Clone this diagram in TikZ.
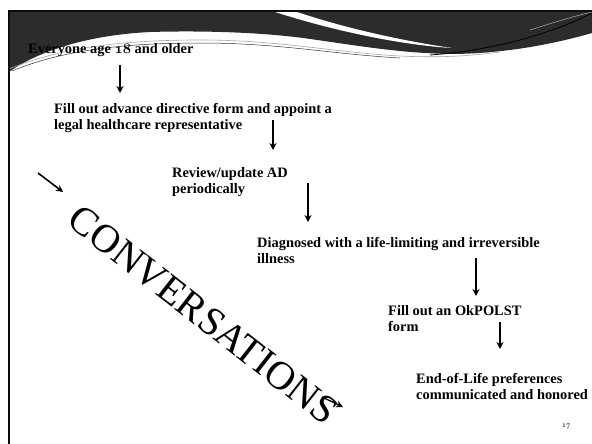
\documentclass[tikz,border=0pt]{standalone}
\usepackage{fontspec}
\setmainfont{Liberation Serif}
\definecolor{bandGray}{RGB}{44,44,44}
\definecolor{frameBlack}{RGB}{12,12,12}
\usetikzlibrary{arrows.meta,positioning}
\newcommand{\osnum}[2]{{\usefont{OML}{cmm}{#1}{it}#2}}

\tikzset{
  steptext/.style={font=\bfseries\fontsize{14.4}{15.5}\selectfont, align=left, inner sep=0pt, anchor=base west},
  flowarrow/.style={-{Stealth[length=7pt,width=7pt]}, line width=1.6pt},
}

\begin{document}
\begin{tikzpicture}[x=1pt, y=-1pt]
    \useasboundingbox (0,0) rectangle (592,444);

    % header band
    \fill[bandGray] (9,11) -- (592,11) -- (592,33) .. controls (540,48) and (490,54) .. (450,54) .. controls (400,53) and (360,46) .. (317,40) .. controls (280,34) and (220,30) .. (150,32) .. controls (90,35) and (40,50) .. (9,72) -- cycle;
    \fill[white] (272,11) -- (294,11) .. controls (350,30) and (410,42) .. (452,48) .. controls (400,45) and (330,30) .. (272,11) -- cycle;
    \draw[gray!70, line width=0.6pt] (9,69) .. controls (60,48) and (120,40) .. (200,40) .. controls (280,40) and (330,52) .. (400,56) .. controls (440,58) and (470,56) .. (500,52);
    \draw[black!80, line width=0.5pt] (12,71) .. controls (60,51) and (120,43) .. (200,43) .. controls (280,43) and (330,54) .. (400,58);
    \draw[black, line width=0.8pt] (430,55) .. controls (500,50) and (560,30) .. (592,13);
    \draw[gray!60, line width=0.5pt] (530,30) .. controls (555,22) and (575,16) .. (592,12);
    \draw[frameBlack, line width=2.5pt] (9,444) -- (9,11) -- (592,11);

    % steps (base = last line)
    \node[steptext] (everyone) at (28,54) {Everyone age \osnum{b}{18} and older};
    \node[steptext] (advdir) at (54,129) {Fill out advance directive form and appoint a\\legal healthcare representative};
    \node[steptext] (review) at (172,193) {Review/update AD\\periodically};
    \node[steptext] (diagnosed) at (257,263) {Diagnosed with a life-limiting and irreversible\\illness};
    \node[steptext] (okpolst) at (388,331) {Fill out an OkPOLST\\form};
    \node[steptext] (eol) at (416,399) {End-of-Life preferences\\communicated and honored};
    \node[font=\fontsize{8}{8}\selectfont] (pagenum) at (566,427) {\osnum{m}{17}};

    \node[font=\fontsize{40}{40}\selectfont, rotate=-38, inner sep=0pt] (conv) at (203,315) {CONVERSATIONS};

    % arrows
    \coordinate (a1s) at (120,65);  \coordinate (a1e) at (120,93);
    \coordinate (a2s) at (273,120); \coordinate (a2e) at (273,150);
    \coordinate (a3s) at (308,183); \coordinate (a3e) at (308,222);
    \coordinate (a4s) at (476,258); \coordinate (a4e) at (476,296);
    \coordinate (a5s) at (500,322); \coordinate (a5e) at (500,349);
    \coordinate (d1s) at (38,173);  \coordinate (d1e) at (63,192);
    \coordinate (c1s) at (322,397); \coordinate (c1e) at (343,407);

    \draw[flowarrow] (a1s) -- (a1e);
    \draw[flowarrow] (a2s) -- (a2e);
    \draw[flowarrow] (a3s) -- (a3e);
    \draw[flowarrow] (a4s) -- (a4e);
    \draw[flowarrow] (a5s) -- (a5e);
    \draw[flowarrow] (d1s) -- (d1e);
    \draw[flowarrow, line width=1.3pt] (c1s) -- (c1e);
\end{tikzpicture}
\end{document}
